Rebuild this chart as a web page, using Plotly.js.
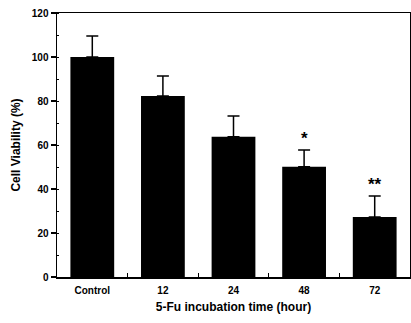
<!DOCTYPE html>
<html>
<head>
<meta charset="utf-8">
<script src="https://cdn.plot.ly/plotly-3.0.1.min.js"></script>
<style>html,body{margin:0;padding:0;background:#fff;}#chart{width:411px;height:323px;}</style>
</head>
<body>
<div id="chart"></div>
<script>
var categories = ["Control", "12", "24", "48", "72"];
var viability = [100, 82.3, 63.8, 50.1, 27.3];
var errors = [9.5, 9.1, 9.4, 7.6, 9.5];
var significance = ["", "", "", "*", "**"];

var trace = {
  type: "bar",
  x: categories,
  y: viability,
  marker: {color: "#000", line: {width: 0}},
  error_y: {type: "data", array: errors, symmetric: false, arrayminus: [0,0,0,0,0], color: "#000", thickness: 1.5, width: 6},
  hoverinfo: "skip"
};

var annotations = [];
for (var i = 0; i < categories.length; i++) {
  if (significance[i]) {
    annotations.push({
      x: i, y: viability[i] + errors[i], xref: "x", yref: "y",
      text: significance[i], showarrow: false, yanchor: "bottom", yshift: 0,
      font: {family: "Liberation Sans", size: 17, color: "#000", weight: "bold"}
    });
  }
}

var layout = {
  width: 411, height: 323,
  margin: {l: 57, r: 1, t: 13, b: 46},
  paper_bgcolor: "#fff", plot_bgcolor: "#fff",
  showlegend: false,
  bargap: 0.38,
  font: {family: "Liberation Sans", color: "#000"},
  xaxis: {
    type: "category", range: [-0.5, 4.5], autorange: false, automargin: true,
    showline: true, linecolor: "#000", linewidth: 1.5, mirror: true,
    ticks: "inside", tickson: "boundaries", ticklen: 4, tickwidth: 1.2, tickcolor: "#000",
    tickangle: 0, ticklabelstandoff: 3,
    tickfont: {family: "Liberation Sans", size: 10, weight: "bold"},
    title: {text: "5-Fu incubation time (hour)", font: {family: "Liberation Sans", size: 12, weight: "bold"}, standoff: 8},
    showgrid: false, zeroline: false, fixedrange: true
  },
  yaxis: {
    range: [0, 120], autorange: false, tickvals: [0, 20, 40, 60, 80, 100, 120],
    showline: true, linecolor: "#000", linewidth: 1.5, mirror: true,
    ticks: "outside", ticklen: 5, tickwidth: 1.2, tickcolor: "#000",
    minor: {dtick: 10, ticks: "inside", ticklen: 2, tickcolor: "#000", tickwidth: 1},
    tickfont: {family: "Liberation Sans", size: 10, weight: "bold"},
    title: {text: "Cell Viability (%)", font: {family: "Liberation Sans", size: 12, weight: "bold"}, standoff: 8},
    showgrid: false, zeroline: false, fixedrange: true
  },
  annotations: annotations
};

Plotly.newPlot("chart", [trace], layout, {displayModeBar: false, staticPlot: true});
</script>
</body>
</html>
